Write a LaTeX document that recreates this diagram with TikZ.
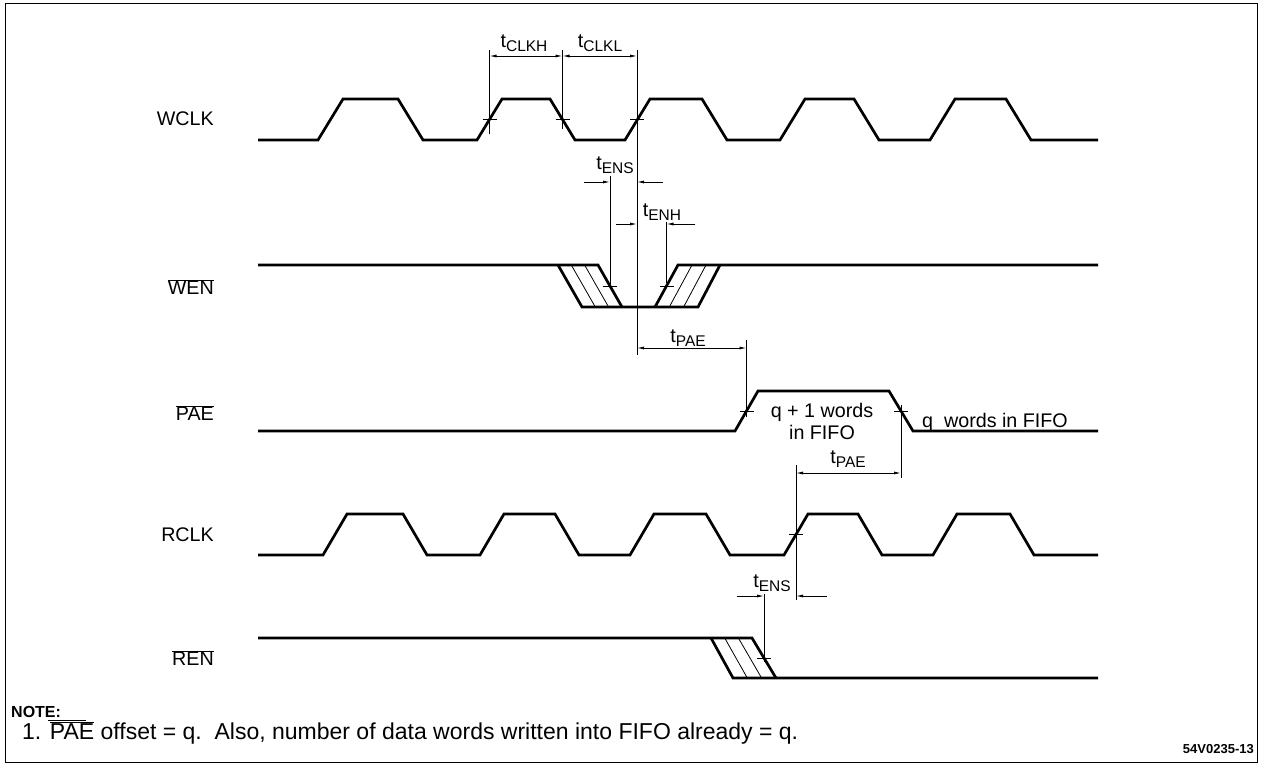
\documentclass[tikz,border=0pt]{standalone}
\usepackage{fontspec}
\setmainfont{Liberation Sans}
\usetikzlibrary{arrows.meta}
\newcommand{\tval}[1]{t\raisebox{-3.5pt}{\fontsize{15.5}{16}\selectfont #1}}
\newcommand{\ovl}[1]{$\overline{\mbox{#1}}$}
\tikzset{
  wave/.style={line width=2.7pt},
  thinline/.style={line width=0.8pt},
  hatchline/.style={line width=0.8pt},
  dimline/.style={thinline, {Latex[length=7pt,width=3pt]}-{Latex[length=7pt,width=3pt]}},
  inarrow/.style={thinline, -{Latex[length=7pt,width=3pt]}},
  signame/.style={anchor=east, inner sep=0pt, font=\fontsize{19.7}{22}\selectfont},
  timelabel/.style={inner sep=0pt, font=\fontsize{19.7}{22}\selectfont},
  notetext/.style={anchor=west, inner sep=0pt, font=\fontsize{23}{25}\selectfont}
}

\begin{document}
\begin{tikzpicture}[x=1pt, y=-1pt]
  \useasboundingbox (0,0) rectangle (1261,770);
  \draw[line width=1pt] (5,4) rectangle (1257,762);

  % signal names
  \node[signame] (nwclk) at (214,119) {WCLK};
  \node[signame] (nwen) at (214,287) {\ovl{WEN}};
  \node[signame] (npae) at (214,413) {\ovl{PAE}};
  \node[signame] (nrclk) at (214,535) {RCLK};
  \node[signame] (nren) at (214,658) {\ovl{REN}};

  % clocks
  \draw[wave] (258,140) \foreach \r/\f in {318/398,477/550,625/702,780/854,930/1006}
    { -- (\r,140) -- ++(25,-41) -- (\f,99) -- ++(25,41) } -- (1098,140);
  \draw[wave] (258,555) \foreach \r/\f in {323/403,480/555,630/706,784/858,933/1010}
    { -- (\r,555) -- ++(24,-41) -- (\f,514) -- ++(24,41) } -- (1098,555);

  % WEN
  \draw[wave] (258,265) -- (598,265) -- (622,307);
  \draw[wave] (558,265) -- (582,307) -- (698,307) -- (720,265);
  \draw[wave] (655,307) -- (678,265) -- (1098,265);
  \foreach \i in {1,2} {
    \draw[hatchline] ({558+\i*13.3},265) -- ({582+\i*13.3},307);
    \draw[hatchline] ({678+\i*14},265) -- ({655+\i*14.3},307);
  }

  % PAE
  \draw[wave] (258,431) -- (735,431) -- (758,391) -- (889,391) -- (913,431) -- (1098,431);
  \node[timelabel, align=center] (qone) at (822,421) {q + 1 words\\in FIFO};
  \node[anchor=west, timelabel] (qwords) at (922,422) {q\ \ words in FIFO};

  % REN
  \draw[wave] (258,638) -- (752,638) -- (776,678);
  \draw[wave] (711,638) -- (733,678) -- (1098,678);
  \foreach \i in {1,2}
    \draw[hatchline] ({711+\i*13.7},638) -- ({733+\i*14.3},678);

  % crossing points
  \coordinate (wA) at (489.5,119.5);
  \coordinate (wB) at (562.5,119.5);
  \coordinate (wC) at (637,119.5);
  \coordinate (enL) at (610,286);
  \coordinate (enR) at (666.5,286);
  \coordinate (paR) at (746.5,411);
  \coordinate (paF) at (901,411);
  \coordinate (rc) at (796,534.5);
  \coordinate (rn) at (764,658);
  \foreach \c in {wA,wB,wC,enL,enR,paR,paF,rc,rn}
    \draw[thinline] (\c) +(-7,0) -- +(7,0);

  % tCLKH / tCLKL
  \draw[thinline] (wA) ++(0,15) -- (wA |- 0,50);
  \draw[thinline] (wB) ++(0,10) -- (wB |- 0,50);
  \draw[thinline] (wC |- 0,50) -- (wC |- 0,355);
  \draw[dimline] (wA |- 0,56) -- (wB |- 0,56);
  \draw[dimline] (wB |- 0,56) -- (wC |- 0,56);
  \node[timelabel] (tclkh) at (524,43) {\tval{CLKH}};
  \node[timelabel] (tclkl) at (600,43) {\tval{CLKL}};

  % tENS / tENH
  \draw[thinline] (enL |- 0,176) -- (enL);
  \draw[inarrow] (584,182) -- (enL |- 0,182);
  \draw[inarrow] (663,182) -- (wC |- 0,182);
  \node[timelabel] (tens) at (615,165) {\tval{ENS}};
  \draw[thinline] (enR |- 0,222) -- ([yshift=3pt]enR);
  \draw[inarrow] (616,224) -- (wC |- 0,224);
  \draw[inarrow] (695,224) -- (enR |- 0,224);
  \node[timelabel] (tenh) at (662,212) {\tval{ENH}};

  % tPAE from WCLK
  \draw[dimline] (wC |- 0,348) -- (paR |- 0,348);
  \draw[thinline] (paR |- 0,340) -- ([yshift=-6pt]paR);
  \node[timelabel] (tpaea) at (688,338) {\tval{PAE}};

  % tPAE from RCLK
  \draw[thinline] (paF |- 0,405) -- (paF |- 0,478);
  \draw[thinline] (rc |- 0,465) -- (rc |- 0,600);
  \draw[dimline] (rc |- 0,473) -- (paF |- 0,473);
  \node[timelabel] (tpaeb) at (848,459) {\tval{PAE}};

  % tENS for REN
  \draw[thinline] (rn |- 0,594) -- ([yshift=-4pt]rn);
  \draw[inarrow] (737,596) -- (rn |- 0,596);
  \draw[inarrow] (827,596) -- (rc |- 0,596);
  \node[timelabel] (tensr) at (772,583) {\tval{ENS}};

  % note
  \node[notetext, font=\fontsize{16}{18}\selectfont\bfseries] (note) at (11,712) {NOTE:};
  \draw[thinline] (48,720.5) -- (86,720.5);
  \node[notetext] (noteone) at (22,733) {1. \ovl{PAE} offset = q.\ \ Also, number of data words written into FIFO already = q.};
  \node[anchor=east, inner sep=0pt, font=\fontsize{13}{15}\selectfont\bfseries] (figid) at (1254,749) {54V0235-13};
\end{tikzpicture}
\end{document}
